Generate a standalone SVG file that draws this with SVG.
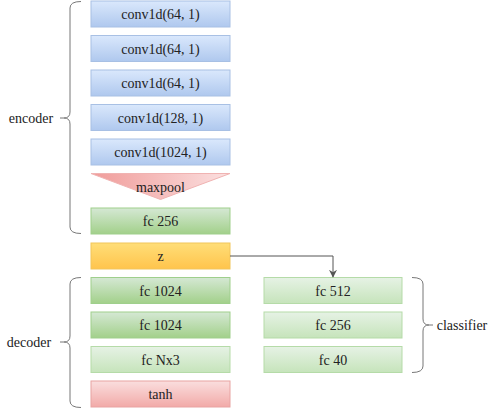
<svg xmlns="http://www.w3.org/2000/svg" width="498" height="410" viewBox="0 0 498 410" font-family="Liberation Serif, DejaVu Serif, serif">
<defs>
<linearGradient id="gBlue" x1="0" y1="0" x2="0" y2="1"><stop offset="0" stop-color="#dae8fc"/><stop offset="1" stop-color="#afc8ee"/></linearGradient>
<linearGradient id="gGreen" x1="0" y1="0" x2="0" y2="1"><stop offset="0" stop-color="#d5e8d4"/><stop offset="1" stop-color="#a2d08a"/></linearGradient>
<linearGradient id="gLGreen" x1="0" y1="0" x2="0" y2="1"><stop offset="0" stop-color="#e6f2e5"/><stop offset="1" stop-color="#c6e4bb"/></linearGradient>
<linearGradient id="gYellow" x1="0" y1="0" x2="0" y2="1"><stop offset="0" stop-color="#ffde78"/><stop offset="1" stop-color="#ffc44c"/></linearGradient>
<linearGradient id="gRed" x1="0" y1="0" x2="0" y2="1"><stop offset="0" stop-color="#fadede"/><stop offset="1" stop-color="#f2aaa8"/></linearGradient>
<linearGradient id="gRedH" x1="0" y1="0" x2="1" y2="0"><stop offset="0" stop-color="#f09c9a"/><stop offset="1" stop-color="#fbe0e0"/></linearGradient>
<marker id="arr" viewBox="0 0 10 10" refX="9" refY="5" markerWidth="8" markerHeight="8" markerUnits="userSpaceOnUse" orient="auto"><path d="M0,0 L10,5 L0,10 L3,5 Z" fill="#555"/></marker>
</defs>
<style>
text{font-size:14px;fill:#222;text-anchor:middle}
.blue{fill:url(#gBlue);stroke:#a8c0e4;stroke-width:1}
.green{fill:url(#gGreen);stroke:#9fcf8c;stroke-width:1}
.lgreen{fill:url(#gLGreen);stroke:#b5dba8;stroke-width:1}
.yellow{fill:url(#gYellow);stroke:#f2c55a;stroke-width:1}
.red{fill:url(#gRed);stroke:#e8a3a2;stroke-width:1}
.brace{fill:none;stroke:#777;stroke-width:1}
</style>
<g id="encoder">
<path class="brace" d="M81,1.5 Q70,1.5 70,8 L70,112 Q70,118 64,118 L60,118 M64,118 Q70,118 70,124 L70,227 Q70,233.5 81,233.5"/>
<text x="31" y="123">encoder</text>
</g>
<g id="conv1"><rect class="blue" x="91" y="1" width="139" height="26"/><text x="160.5" y="19">conv1d(64, 1)</text></g>
<g id="conv2"><rect class="blue" x="91" y="35.5" width="139" height="26"/><text x="160.5" y="53.5">conv1d(64, 1)</text></g>
<g id="conv3"><rect class="blue" x="91" y="70" width="139" height="26"/><text x="160.5" y="88">conv1d(64, 1)</text></g>
<g id="conv4"><rect class="blue" x="91" y="104.5" width="139" height="26"/><text x="160.5" y="122.5">conv1d(128, 1)</text></g>
<g id="conv5"><rect class="blue" x="91" y="139" width="139" height="26"/><text x="160.5" y="157">conv1d(1024, 1)</text></g>
<g id="maxpool"><polygon points="91,173.5 230,173.5 160.5,199.5" fill="url(#gRedH)" stroke="#f0b3b2" stroke-width="1"/><text x="160.5" y="192">maxpool</text></g>
<g id="fc256"><rect class="green" x="91" y="208" width="139" height="26"/><text x="160.5" y="226">fc 256</text></g>
<g id="z"><rect class="yellow" x="91" y="243" width="139" height="26"/><text x="160.5" y="261">z</text></g>
<g id="decoder">
<path class="brace" d="M81,277.5 Q70,277.5 70,284 L70,336 Q70,342 64,342 L60,342 M64,342 Q70,342 70,348 L70,401 Q70,407.5 81,407.5"/>
<text x="29" y="347">decoder</text>
</g>
<g id="fc1024a"><rect class="green" x="91" y="277.5" width="139" height="26"/><text x="160.5" y="295.5">fc 1024</text></g>
<g id="fc1024b"><rect class="green" x="91" y="312" width="139" height="26"/><text x="160.5" y="330">fc 1024</text></g>
<g id="fcNx3"><rect class="lgreen" x="91" y="346.5" width="139" height="26"/><text x="160.5" y="364.5">fc Nx3</text></g>
<g id="tanh"><rect class="red" x="91" y="381" width="139" height="26"/><text x="160.5" y="399">tanh</text></g>
<g id="classifier">
<path class="brace" d="M412,277.5 Q423,277.5 423,284 L423,319 Q423,325 429,325 L433,325 M429,325 Q423,325 423,331 L423,366 Q423,372.5 412,372.5"/>
<text x="462" y="330">classifier</text>
</g>
<g id="fc512"><rect class="lgreen" x="264" y="277.5" width="138" height="26"/><text x="333" y="295.5">fc 512</text></g>
<g id="fc256c"><rect class="lgreen" x="264" y="312" width="138" height="26"/><text x="333" y="330">fc 256</text></g>
<g id="fc40"><rect class="lgreen" x="264" y="346.5" width="138" height="26"/><text x="333" y="364.5">fc 40</text></g>
<g id="connectors">
<path d="M230,256 L333,256 L333,277" fill="none" stroke="#555" stroke-width="1" marker-end="url(#arr)"/>
</g>
</svg>
